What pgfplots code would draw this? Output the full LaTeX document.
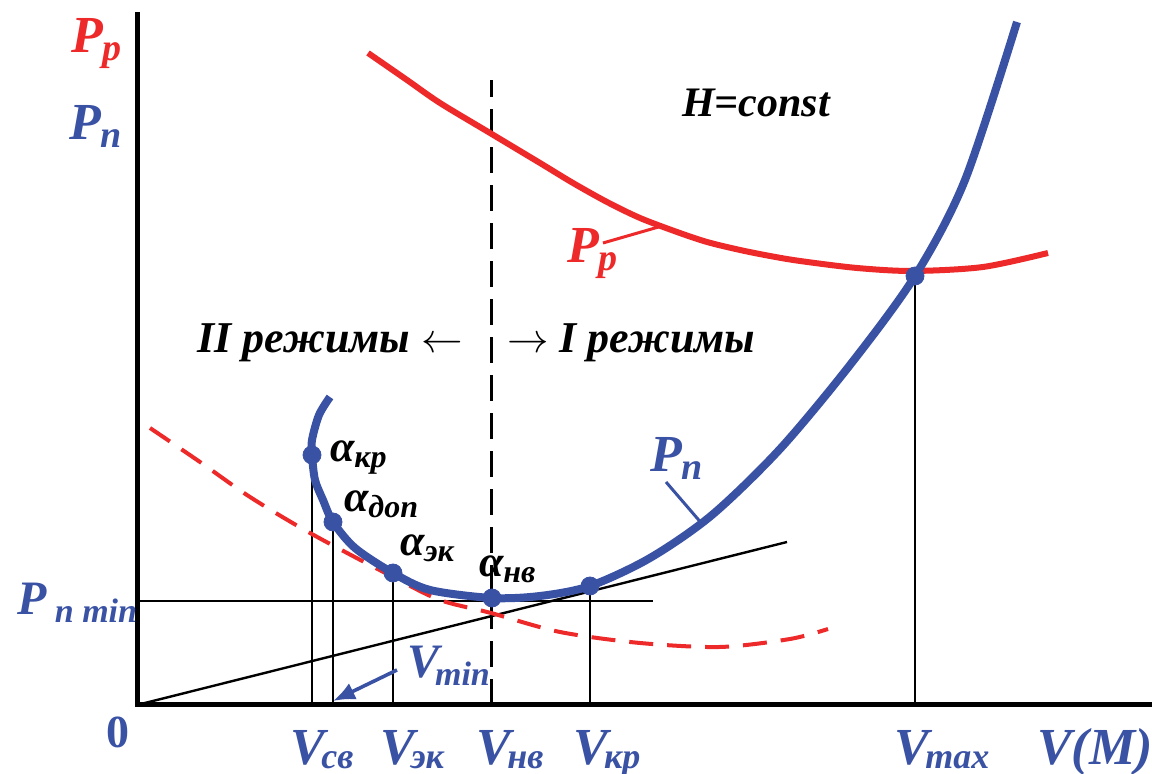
\documentclass[border=0pt]{standalone}
\usepackage{fontspec}
\setmainfont{Liberation Serif}[BoldItalicFont={Liberation Serif Bold Italic}]
\usepackage{pgfplots}
\pgfplotsset{compat=1.18}
\usetikzlibrary{arrows.meta}
\definecolor{pred}{RGB}{237,41,41}
\definecolor{pblue}{RGB}{58,82,164}
% size-and-shape helper, and a lowered index
\newcommand{\tx}[1]{\fontsize{#1}{#1}\selectfont\bfseries\itshape}
\newcommand{\sub}[3]{\raisebox{-#1}{\fontsize{#2}{#2}\selectfont #3}}
\begin{document}
\begin{tikzpicture}
\begin{axis}[hide axis, scale only axis, width=576pt, height=387pt,
  xmin=-137, xmax=1015, ymin=-69, ymax=705, clip=false]

% tangent from the origin and the P_n min level
\addplot[black, line width=1.2pt] coordinates {(0,0) (650,163)};
\addplot[black, line width=1.2pt] coordinates {(0,104) (516,104)};
% projections of the characteristic points
\addplot[black, line width=1.2pt] coordinates {(175,0) (175,250)};
\addplot[black, line width=1.2pt] coordinates {(196,0) (196,183)};
\addplot[black, line width=1.2pt] coordinates {(256,0) (256,132)};
\addplot[black, line width=1.2pt] coordinates {(453,0) (453,119)};
\addplot[black, line width=1.2pt] coordinates {(778,0) (778,429)};
% boundary between regimes
\addplot[black, line width=1.5pt, dash pattern=on 13pt off 6pt] coordinates {(354,0) (354,625)};

% axes
\addplot[black, line width=2.5pt, line join=miter] coordinates {(0,693) (0,0) (1015,0)};

% required power at a lower altitude (dashed)
\addplot[pred, line width=2pt, dash pattern=on 12pt off 7pt, smooth, tension=0.5] coordinates {
  (13,277) (63,243) (113,208) (173,172) (256,128) (303,105) (354,92)
  (423,73) (503,62) (583,58) (653,66) (691,76)};

% available power P_p
\addplot[pred, line width=3pt, smooth, tension=0.5] coordinates {
  (231,652) (270,625) (303,602) (353,572) (403,542) (436,522) (470,503)
  (503,487) (540,473) (570,463) (603,455) (633,449) (663,444) (720,437)
  (776,434) (846,438) (911,452)};

% required power P_n
\addplot[pblue, line width=4pt, smooth, tension=0.5] coordinates {
  (193,308) (182,290) (175,265) (175,250) (178,225) (186,205) (196,183)
  (218,157) (256,132) (293,115) (355,107) (403,109) (453,119) (513,147)
  (575,190) (643,256) (713,340) (778,429) (828,525) (880,683)};

% characteristic points
\addplot[only marks, mark=*, mark size=4.5pt, pblue] coordinates {
  (175,250) (196,183) (256,132) (355,107) (453,119) (778,429)};

% leader lines
\addplot[pred, line width=1.5pt] coordinates {(466,462) (525,479)};
\addplot[pblue, line width=1.5pt] coordinates {(529,223) (566,180)};
% V_min pointer
\addplot[pblue, line width=1.8pt, -{Latex[length=11pt,width=9pt]}] coordinates {(260,35) (196,4)};

% axis titles
\node[anchor=base west, text=pred] at (axis cs:-73,652) {\tx{26pt}P\sub{4pt}{19pt}{p}};
\node[anchor=base west, text=pblue] at (axis cs:-75,565) {\tx{26pt}P\sub{4pt}{19pt}{n}};
\node[anchor=base west, text=pblue] at (axis cs:-127,90) {\tx{24pt}P\sub{4pt}{17pt}{ n min}};
\node[anchor=base, text=pblue] at (axis cs:-19,-43) {\fontsize{23pt}{23pt}\selectfont\bfseries 0};

% speeds on the V axis
\node[anchor=base, text=pblue] at (axis cs:185,-60) {\tx{26pt}V\kern-2pt\sub{2pt}{18pt}{св}};
\node[anchor=base, text=pblue] at (axis cs:275,-60) {\tx{26pt}V\kern-2pt\sub{2pt}{18pt}{эк}};
\node[anchor=base, text=pblue] at (axis cs:373,-60) {\tx{26pt}V\kern-2pt\sub{2pt}{18pt}{нв}};
\node[anchor=base, text=pblue] at (axis cs:470,-60) {\tx{26pt}V\kern-2pt\sub{2pt}{18pt}{кр}};
\node[anchor=base, text=pblue] at (axis cs:805,-60) {\tx{26pt}V\kern-2pt\sub{2pt}{18pt}{max}};
\node[anchor=base, text=pblue] at (axis cs:958,-60) {\tx{26pt}V(M)};
\node[anchor=base west, text=pblue] at (axis cs:263,27) {\tx{24pt}V\kern-2pt\sub{4pt}{17pt}{min}};

% angles of attack
\node[anchor=base west] at (axis cs:186,243) {\tx{22pt}α\sub{3pt}{16pt}{кр}};
\node[anchor=base west] at (axis cs:200,193) {\tx{22pt}α\sub{3pt}{16pt}{доп}};
\node[anchor=base west] at (axis cs:256,149) {\tx{22pt}α\sub{3pt}{16pt}{эк}};
\node[anchor=base west] at (axis cs:335,128) {\tx{22pt}α\sub{3pt}{16pt}{нв}};

% curve names
\node[anchor=base west, text=pred] at (axis cs:423,442) {\tx{26pt}P\sub{4pt}{19pt}{p}};
\node[anchor=base west, text=pblue] at (axis cs:506,233) {\tx{26pt}P\sub{4pt}{19pt}{n}};
\node[anchor=base west] at (axis cs:538,588) {\tx{21pt}H=const};

% regimes
\node[anchor=base east] at (axis cs:333,352) {\tx{22pt}II режимы $\leftarrow$};
\node[anchor=base west] at (axis cs:363,352) {\tx{22pt}$\rightarrow$ I режимы};
\end{axis}
\pgfresetboundingbox
\path[use as bounding box] (current axis.south west) rectangle (current axis.north east);
\end{tikzpicture}
\end{document}
